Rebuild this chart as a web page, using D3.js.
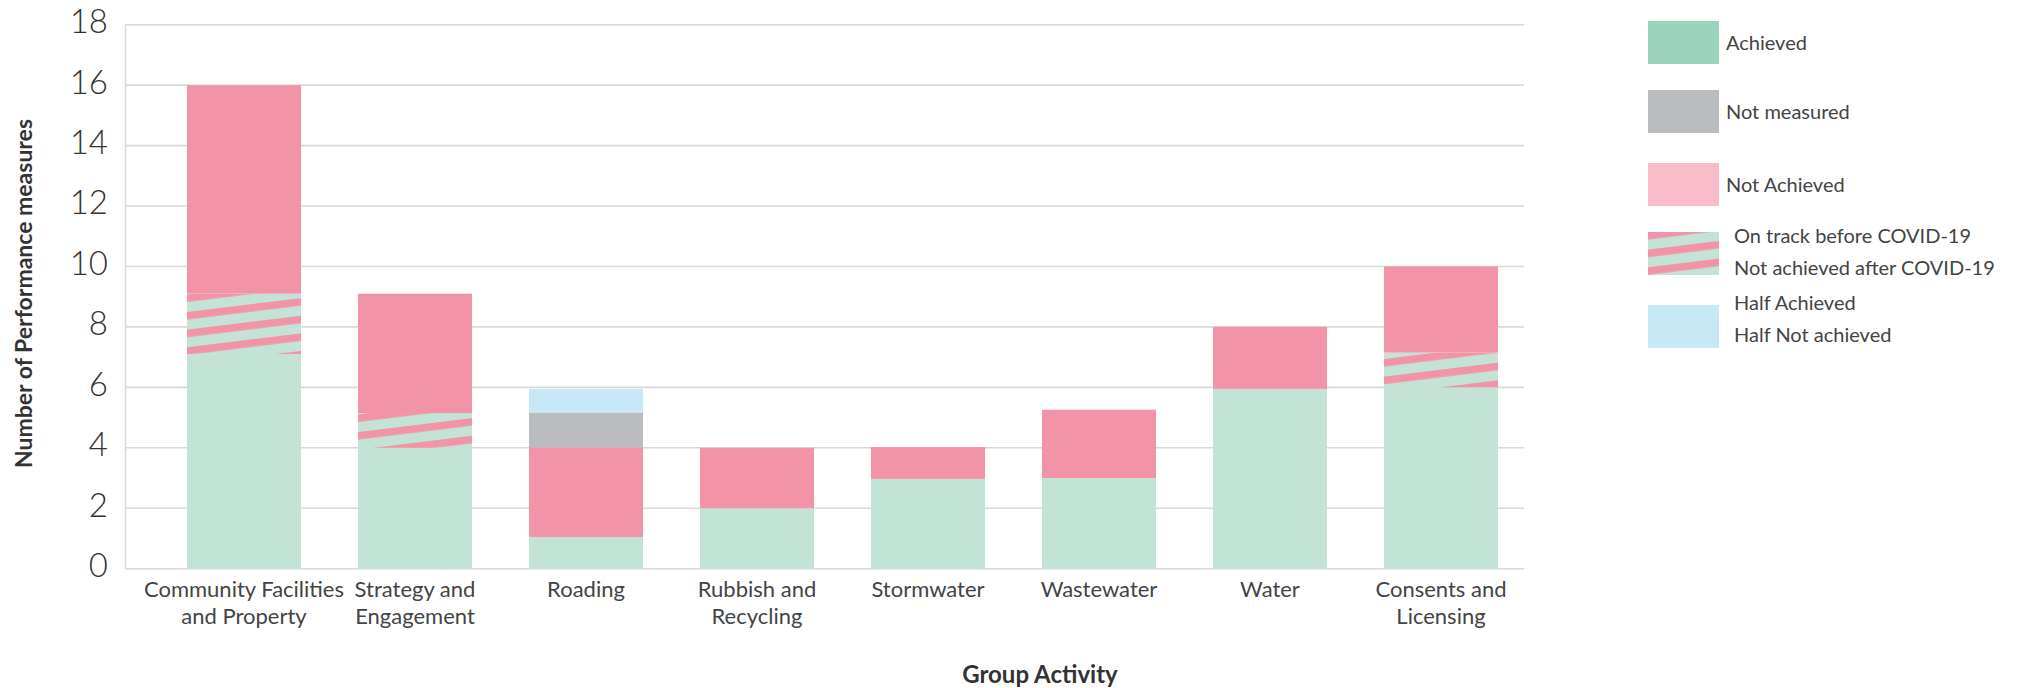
<!DOCTYPE html>
<html>
<head>
<meta charset="utf-8">
<script src="https://cdn.jsdelivr.net/npm/d3@7"></script>
<style>
  body { margin: 0; background: #fff; }
  text { font-family: Lato, "Open Sans", sans-serif; }
</style>
</head>
<body>
<div id="chart"></div>
<script>
// DATA
let categories = ["Community Facilities|and Property", "Strategy and|Engagement", "Roading",
  "Rubbish and|Recycling", "Stormwater", "Wastewater", "Water", "Consents and|Licensing"]
let achieved    = [7.1, 4,    1.05, 2, 2.97, 3,    5.95, 6]
let covid       = [2,   1.15, 0,    0, 0,    0,    0,    1.15]
let notAchieved = [6.9, 3.95, 2.97, 2, 1.05, 2.26, 2.05, 2.85]
let notMeasured = [0,   0,    1.15, 0, 0,    0,    0,    0]
let halfAchieved = [0,  0,    0.78, 0, 0,    0,    0,    0]
let yTicks = [0, 2, 4, 6, 8, 10, 12, 14, 16, 18]

let keys = ["achieved", "covid", "notAchieved", "notMeasured", "half"]
let barColors = {achieved: "#c3e3d7", covid: "url(#hatch)", notAchieved: "#f294a8",
  notMeasured: "#bbbcc0", half: "#c6e8f7"}

let legendItems = [
  {lines: ["Achieved"], fill: "#9bd4bc"},
  {lines: ["Not measured"], fill: "#bbbcc0"},
  {lines: ["Not Achieved"], fill: "#f8bcc8"},
  {lines: ["On track before COVID-19", "Not achieved after COVID-19"], fill: "url(#hatch)"},
  {lines: ["Half Achieved", "Half Not achieved"], fill: "#c6e8f7"}
]

let rows = categories.map((c, i) => ({
  cat: c, achieved: achieved[i], covid: covid[i], notAchieved: notAchieved[i],
  notMeasured: notMeasured[i], half: halfAchieved[i]
}))

// CHART AREA
let width = 2019, height = 688
let svg = d3.select("#chart").append("svg")
  .attr("width", width)
  .attr("height", height)

let defs = svg.append("defs")
let pat = defs.append("pattern")
  .attr("id", "hatch")
  .attr("patternUnits", "userSpaceOnUse")
  .attr("width", 40)
  .attr("height", 17.5)
  .attr("patternTransform", "rotate(-7)")
pat.append("rect").attr("width", 40).attr("height", 17.5).attr("fill", "#c3e3d7")
pat.append("rect").attr("y", 0).attr("width", 40).attr("height", 7.5).attr("fill", "#f294a8")

let x = d3.scaleBand()
  .domain(categories)
  .range([158.5, 1526.5])
  .paddingInner(0.333)
  .paddingOuter(0.1665)

let y = d3.scaleLinear()
  .domain([0, 18])
  .range([568.7, 24.7])

// gridlines
svg.append("g").selectAll("line").data(yTicks)
  .enter().append("line")
  .attr("x1", 125).attr("x2", 1524)
  .attr("y1", d => y(d)).attr("y2", d => y(d))
  .attr("stroke", "#d9d9d9")
  .attr("stroke-width", 1.6)

svg.append("line")
  .attr("x1", 125.5).attr("x2", 125.5)
  .attr("y1", y(18)).attr("y2", y(0))
  .attr("stroke", "#d9d9d9")
  .attr("stroke-width", 1.6)

// y tick labels
let yAxis = svg.append("g")
  .attr("transform", "translate(108,0)")
  .call(d3.axisLeft(y).tickValues(yTicks).tickSize(0).tickPadding(0))
yAxis.select(".domain").remove()
yAxis.selectAll("text")
  .attr("dy", "0.24em")
  .attr("fill", "#333")
  .style("font-size", "33px")
  .style("font-weight", 300)
  .style("font-family", "Lato, sans-serif")

// bars
let stacked = d3.stack().keys(keys)(rows)
svg.append("g").selectAll("g").data(stacked)
  .enter().append("g")
  .attr("fill", d => barColors[d.key])
  .selectAll("rect").data(d => d)
  .enter().append("rect")
  .attr("x", d => x(d.data.cat))
  .attr("width", x.bandwidth())
  .attr("y", d => y(d[1]))
  .attr("height", d => y(d[0]) - y(d[1]))

// x labels
let xLabels = svg.append("g").selectAll("text").data(categories)
  .enter().append("text")
  .attr("x", d => x(d) + x.bandwidth() / 2)
  .attr("y", 597)
  .attr("text-anchor", "middle")
  .attr("fill", "#444")
  .style("font-size", "22px")
xLabels.each(function (d) {
  let parts = d.split("|")
  d3.select(this).selectAll("tspan").data(parts)
    .enter().append("tspan")
    .attr("x", x(d) + x.bandwidth() / 2)
    .attr("dy", (p, i) => i == 0 ? 0 : 27)
    .text(p => p)
})

// axis titles
svg.append("text")
  .attr("transform", "translate(32,293.5) rotate(-90)")
  .attr("text-anchor", "middle")
  .attr("fill", "#333")
  .style("font-size", "23px")
  .style("font-weight", "bold")
  .text("Number of Performance measures")

svg.append("text")
  .attr("x", 1040)
  .attr("y", 683)
  .attr("text-anchor", "middle")
  .attr("fill", "#333")
  .style("font-size", "24px")
  .style("font-weight", "bold")
  .text("Group Activity")

// legend
let legendTop = [21, 90, 163, 232, 305]
let legendLineY = [[22], [22], [22], [4, 36], [-2, 30]]
let legend = svg.append("g").selectAll("g").data(legendItems)
  .enter().append("g")
  .attr("transform", (d, i) => "translate(1648," + legendTop[i] + ")")
legend.append("rect")
  .attr("width", 71)
  .attr("height", 43)
  .attr("fill", d => d.fill)
legend.each(function (d, i) {
  let g = d3.select(this)
  d.lines.forEach((l, j) => {
    g.append("text")
      .attr("x", d.lines.length > 1 ? 86 : 78)
      .attr("y", legendLineY[i][j])
      .attr("dy", "0.35em")
      .attr("fill", "#444")
      .style("font-size", "20px")
      .text(l)
  })
})
</script>
</body>
</html>
